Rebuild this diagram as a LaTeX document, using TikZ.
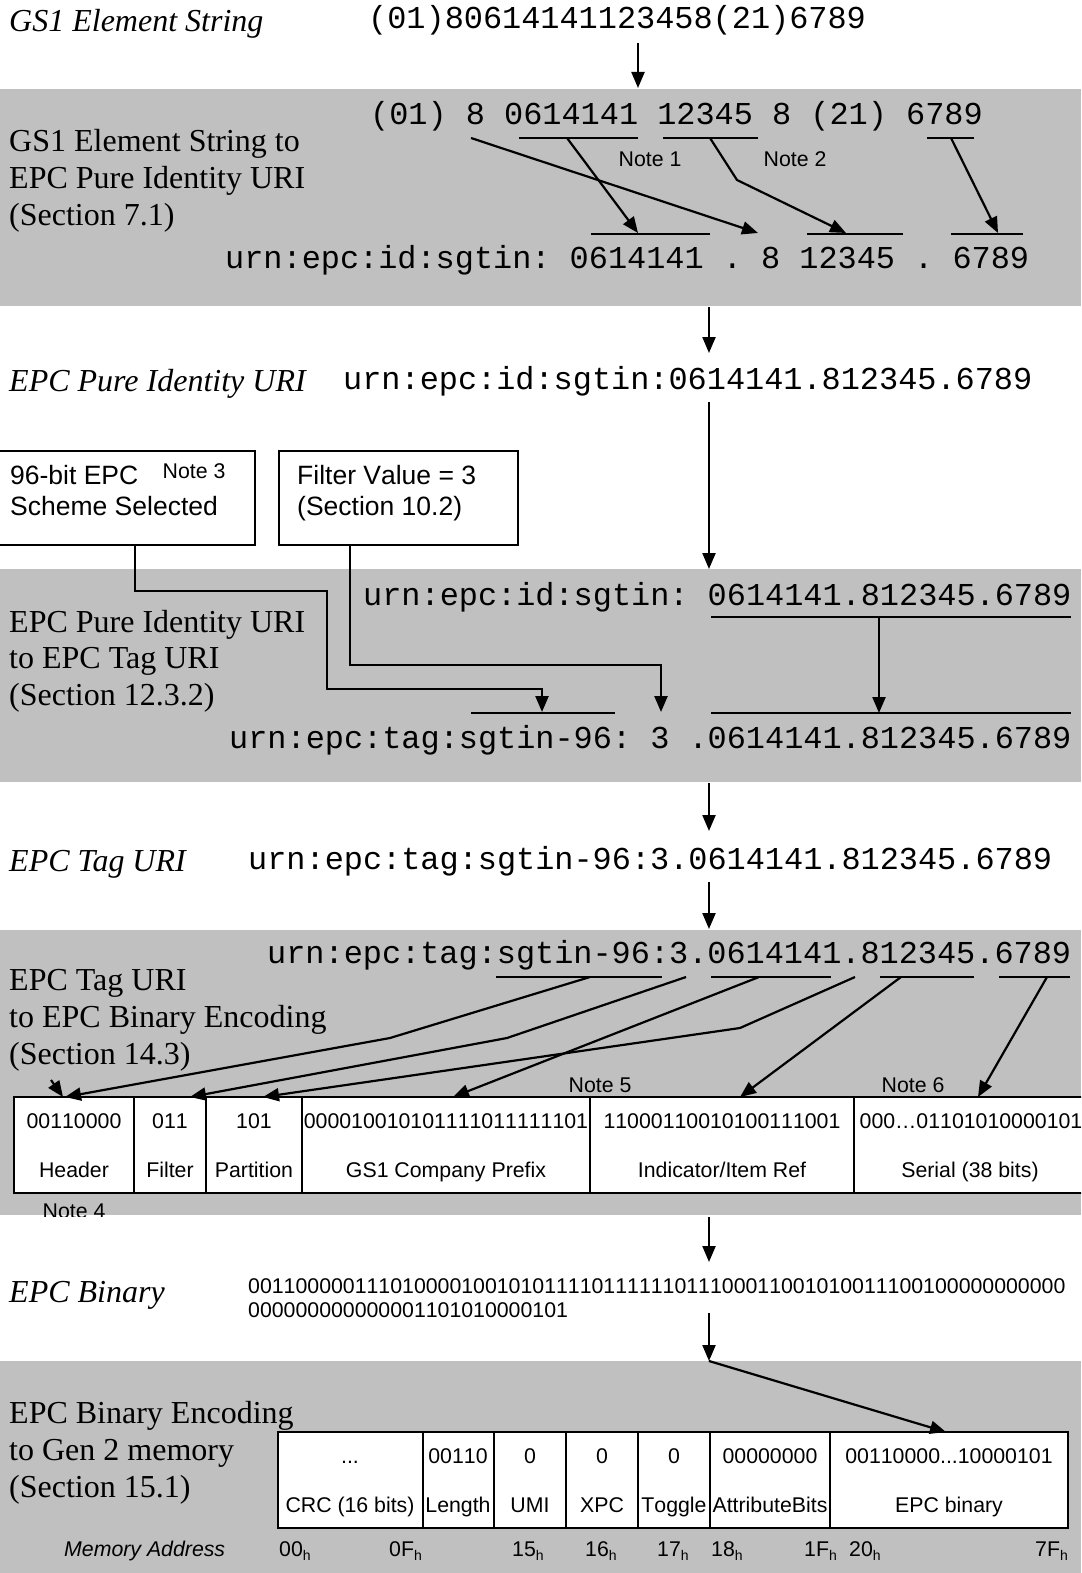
\documentclass[tikz,border=0pt]{standalone}
\usepackage{fontspec}
\setmainfont{Liberation Serif}
\setsansfont[Kerning=Off]{Liberation Sans}
\setmonofont{Liberation Mono}
\usetikzlibrary{arrows.meta}
\definecolor{band}{RGB}{192,192,192}
\tikzset{
  lbl/.style={anchor=base west, inner sep=0pt, font=\fontsize{32}{36}\selectfont},
  ilbl/.style={anchor=base west, inner sep=0pt, font=\fontsize{32}{36}\selectfont\itshape},
  mono/.style={anchor=base west, inner sep=0pt, font=\ttfamily\fontsize{31.9}{36}\selectfont\frenchspacing},
  boxtxt/.style={anchor=base west, inner sep=0pt, font=\sffamily\fontsize{26.5}{30}\selectfont},
  note/.style={anchor=base, inner sep=0pt, font=\sffamily\fontsize{21.3}{24}\selectfont},
  cell/.style={anchor=base, inner sep=0pt, font=\sffamily\fontsize{21.3}{24}\selectfont},
  bin/.style={anchor=base west, inner sep=0pt, font=\sffamily\fontsize{21.3}{24}\selectfont},
  addr/.style={anchor=base west, inner sep=0pt, font=\sffamily\fontsize{21.3}{24}\selectfont},
  arr/.style={line width=2.2pt, -{Triangle[length=16pt,width=13pt]}},
  ul/.style={line width=1.8pt},
  conn/.style={line width=2.4pt},
  tbl/.style={line width=2pt, fill=white},
  boxst/.style={draw, line width=1.6pt, fill=white, inner sep=0pt, anchor=north west},
}
\newcommand{\hsub}[1]{#1\raisebox{-4pt}{\fontsize{14}{14}\selectfont h}}
\begin{document}
\begin{tikzpicture}[x=1pt,y=-1pt]
\useasboundingbox (0,0) rectangle (1081,1573);
\clip (0,0) rectangle (1081,1573);
\fill[white] (0,0) rectangle (1081,1573);
% bands
\fill[band] (0,89) rectangle (1081,306);
\fill[band] (0,569) rectangle (1081,782);
\fill[band] (0,930) rectangle (1081,1215);
\fill[band] (0,1361) rectangle (1081,1573);

% ---------- top ----------
\node[ilbl] (t0) at (9,32) {GS1 Element String};
\node[mono] (s0) at (368,29) {(01)80614141123458(21)6789};
\coordinate (a0s) at (638,43); \coordinate (a0e) at (638,88);
\draw[arr] (a0s) -- (a0e);

% ---------- band 1 ----------
\node[lbl] (l1a) at (9,152) {GS1 Element String to};
\node[lbl] (l1b) at (9,189) {EPC Pure Identity URI};
\node[lbl] (l1c) at (9,225) {(Section 7.1)};
\node[mono] (s1u) at (370,125) {(01) 8 0614141 12345 8 (21) 6789};
\node[mono] (s1l) at (225,268) {urn:epc:id:sgtin: 0614141 . 8 12345 . 6789};
\draw[ul] (519,138) -- (638,138);
\draw[ul] (663,138) -- (758,138);
\draw[ul] (927,138) -- (974,138);
\draw[ul] (591,234) -- (710,234);
\draw[ul] (807,234) -- (903,234);
\draw[ul] (951,234) -- (1023,234);
\coordinate (p8s) at (471,138); \coordinate (p8e) at (758,233);
\coordinate (pcs) at (567,138); \coordinate (pce) at (638,233);
\coordinate (pis) at (710,138); \coordinate (pim) at (737,180); \coordinate (pie) at (846,233);
\coordinate (pss) at (951,138); \coordinate (pse) at (998,233);
\draw[arr] (p8s) -- (p8e);
\draw[arr] (pcs) -- (pce);
\draw[arr] (pis) -- (pim) -- (pie);
\draw[arr] (pss) -- (pse);
\node[note] (n1) at (650,167) {Note 1};
\node[note] (n2) at (795,167) {Note 2};

\coordinate (a1s) at (709,307); \coordinate (a1e) at (709,353);
\draw[arr] (a1s) -- (a1e);

% ---------- EPC Pure Identity URI ----------
\node[ilbl] (t1) at (9,391) {EPC Pure Identity URI};
\node[mono] (s2) at (343,389) {urn:epc:id:sgtin:0614141.812345.6789};
\coordinate (a2s) at (709,402); \coordinate (a2e) at (709,569);
\draw[arr] (a2s) -- (a2e);

% boxes
\node[boxst, minimum width=257pt, minimum height=94pt] (b1) at (-3,450) {};
\node[boxst, minimum width=239pt, minimum height=94pt] (b2) at (278,450) {};
\node[boxtxt] (b1a) at (10,484) {96-bit EPC};
\node[boxtxt] (b1b) at (10,515) {Scheme Selected};
\node[note] (n3) at (194,478) {Note 3};
\node[boxtxt] (b2a) at (297,484) {Filter Value = 3};
\node[boxtxt] (b2b) at (297,515) {(Section 10.2)};

% ---------- band 2 ----------
\node[lbl] (l2a) at (9,632) {EPC Pure Identity URI};
\node[lbl] (l2b) at (9,668) {to EPC Tag URI};
\node[lbl] (l2c) at (9,705) {(Section 12.3.2)};
\node[mono] (s3u) at (363,605) {urn:epc:id:sgtin: 0614141.812345.6789};
\node[mono] (s3l) at (229,748) {urn:epc:tag:sgtin-96: 3 .0614141.812345.6789};
\draw[ul] (711,617) -- (1071,617);
\draw[ul] (711,713) -- (1071,713);
\draw[ul] (471,713) -- (615,713);
\coordinate (q1s) at (879,617); \coordinate (q1e) at (879,713);
\draw[arr] (q1s) -- (q1e);
\draw[conn, -{Triangle[length=16pt,width=13pt]}] (b1.south -| 135,0) -- (135,591) -- (327,591) -- (327,689) -- (542,689) -- (542,712);
\draw[conn, -{Triangle[length=16pt,width=13pt]}] (b2.south -| 350,0) -- (350,665) -- (661,665) -- (661,712);

\coordinate (a3s) at (709,783); \coordinate (a3e) at (709,831);
\draw[arr] (a3s) -- (a3e);

% ---------- EPC Tag URI ----------
\node[ilbl] (t2) at (9,871) {EPC Tag URI};
\node[mono] (s4) at (248,869) {urn:epc:tag:sgtin-96:3.0614141.812345.6789};
\coordinate (a4s) at (709,882); \coordinate (a4e) at (709,929);
\draw[arr] (a4s) -- (a4e);

% ---------- band 3 ----------
\node[lbl] (l3a) at (9,990) {EPC Tag URI};
\node[lbl] (l3b) at (9,1027) {to EPC Binary Encoding};
\node[lbl] (l3c) at (9,1064) {(Section 14.3)};
\node[mono] (s5) at (267,963) {urn:epc:tag:sgtin-96:3.0614141.812345.6789};
\draw[ul] (496,977) -- (662,977);
\draw[ul] (711,977) -- (831,977);
\draw[ul] (880,977) -- (974,977);
\draw[ul] (999,977) -- (1070,977);

% table
\draw[tbl] (14,1097) rectangle (1100,1193);
\foreach \xx in {134,206,302,590,854} \draw[line width=2pt] (\xx,1097) -- (\xx,1193);
\node[cell] (v1) at (74,1128) {00110000};
\node[cell] (v2) at (170,1128) {011};
\node[cell] (v3) at (254,1128) {101};
\node[cell] (v4) at (446,1128) {000010010101111011111101};
\node[cell] (v5) at (722,1128) {11000110010100111001};
\node[cell] (v6) at (971,1128) {000…01101010000101};
\node[cell] (h1) at (74,1177) {Header};
\node[cell] (h2) at (170,1177) {Filter};
\node[cell] (h3) at (254,1177) {Partition};
\node[cell] (h4) at (446,1177) {GS1 Company Prefix};
\node[cell] (h5) at (722,1177) {Indicator/Item Ref};
\node[cell] (h6) at (970,1177) {Serial (38 bits)};
\node[note] (n5) at (600,1092) {Note 5};
\node[note] (n6) at (913,1092) {Note 6};
\begin{scope}
\clip (0,930) rectangle (1081,1216);
\node[note] (n4) at (74,1218) {Note 4};
\end{scope}

\coordinate (cAs) at (590,977); \coordinate (cAm) at (390,1038); \coordinate (cAe) at (65,1097);
\coordinate (cBs) at (686,977); \coordinate (cBm) at (507,1038); \coordinate (cBe) at (190,1097);
\coordinate (cCs) at (759,977); \coordinate (cCe) at (453,1097);
\coordinate (cDs) at (855,977); \coordinate (cDm) at (740,1028); \coordinate (cDe) at (263,1097);
\coordinate (cEs) at (901,977); \coordinate (cEe) at (740,1097);
\coordinate (cFs) at (1047,977); \coordinate (cFe) at (978,1097);
\coordinate (cXs) at (51,1080); \coordinate (cXe) at (63,1097);
\draw[arr] (cAs) -- (cAm) -- (cAe);
\draw[arr] (cBs) -- (cBm) -- (cBe);
\draw[arr] (cCs) -- (cCe);
\draw[arr] (cDs) -- (cDm) -- (cDe);
\draw[arr] (cEs) -- (cEe);
\draw[arr] (cFs) -- (cFe);
\draw[arr] (cXs) -- (cXe);

\coordinate (a5s) at (709,1217); \coordinate (a5e) at (709,1262);
\draw[arr] (a5s) -- (a5e);

% ---------- EPC Binary ----------
\node[ilbl] (t3) at (9,1302) {EPC Binary};
\node[bin] (bn1) at (248,1293) {001100000111010000100101011110111111011100011001010011100100000000000};
\node[bin] (bn2) at (248,1317) {000000000000001101010000101};
\coordinate (a6s) at (709,1313); \coordinate (a6e) at (709,1361);
\draw[arr] (a6s) -- (a6e);

% ---------- band 4 ----------
\node[lbl] (l4a) at (9,1423) {EPC Binary Encoding};
\node[lbl] (l4b) at (9,1460) {to Gen 2 memory};
\node[lbl] (l4c) at (9,1497) {(Section 15.1)};
\draw[tbl] (278,1432) rectangle (1068,1528);
\foreach \xx in {423,494,566,638,710,830} \draw[line width=2pt] (\xx,1432) -- (\xx,1528);
\coordinate (a7s) at (709,1361); \coordinate (a7e) at (946,1432);
\draw[arr] (a7s) -- (a7e);
\node[cell] (m1) at (350,1463) {...};
\node[cell] (m2) at (458,1463) {00110};
\node[cell] (m3) at (530,1463) {0};
\node[cell] (m4) at (602,1463) {0};
\node[cell] (m5) at (674,1463) {0};
\node[cell] (m6) at (770,1463) {00000000};
\node[cell] (m7) at (949,1463) {00110000...10000101};
\node[cell] (k1) at (350,1512) {CRC (16 bits)};
\node[cell] (k2) at (458,1512) {Length};
\node[cell] (k3) at (530,1512) {UMI};
\node[cell] (k4) at (602,1512) {XPC};
\node[cell] (k5) at (674,1512) {Toggle};
\node[cell] (k6) at (770,1512) {AttributeBits};
\node[cell] (k7) at (949,1512) {EPC binary};
\node[addr, font=\sffamily\itshape\fontsize{21.3}{24}\selectfont] (ma) at (64,1556) {Memory Address};
\node[addr] (d1) at (279,1556) {\hsub{00}};
\node[addr] (d2) at (389,1556) {\hsub{0F}};
\node[addr] (d3) at (512,1556) {\hsub{15}};
\node[addr] (d4) at (585,1556) {\hsub{16}};
\node[addr] (d5) at (657,1556) {\hsub{17}};
\node[addr] (d6) at (711,1556) {\hsub{18}};
\node[addr] (d7) at (804,1556) {\hsub{1F}};
\node[addr] (d8) at (849,1556) {\hsub{20}};
\node[addr] (d9) at (1035,1556) {\hsub{7F}};
\end{tikzpicture}
\end{document}
